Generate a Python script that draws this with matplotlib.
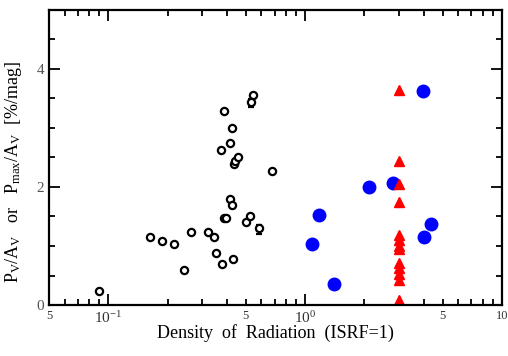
import matplotlib
matplotlib.use("Agg")
import matplotlib.pyplot as plt
from matplotlib.ticker import FixedLocator, NullFormatter

plt.rcParams.update({
    "font.family": "serif",
    "font.serif": ["Liberation Serif", "DejaVu Serif"],
    "mathtext.fontset": "custom",
    "mathtext.rm": "Liberation Serif",
    "mathtext.it": "Liberation Serif:italic",
})

# open circles: P_V/A_V from optical polarimetry
open_x = [0.0895, 0.162, 0.187, 0.215, 0.243, 0.264, 0.322, 0.346, 0.354, 0.380,
          0.432, 0.386, 0.395, 0.414, 0.425, 0.501, 0.525, 0.677, 0.435, 0.440,
          0.456, 0.375, 0.415, 0.425, 0.386, 0.546]
open_y = [0.23, 1.15, 1.08, 1.03, 0.60, 1.24, 1.23, 1.16, 0.88, 0.69,
          0.78, 1.47, 1.47, 1.79, 1.69, 1.41, 1.51, 2.27, 2.38, 2.44,
          2.50, 2.62, 2.75, 3.00, 3.28, 3.56]

# open circles with error bars
err_x = [0.583, 0.533]
err_y = [1.30, 3.44]
err_lo = [0.10, 0.08]
err_hi = [0.05, 0.04]

# filled blue circles: P_max/A_V
blue_x = [3.95, 2.81, 2.12, 1.18, 1.086, 1.40, 4.38, 4.02]
blue_y = [3.62, 2.07, 1.99, 1.53, 1.03, 0.35, 1.38, 1.15]

# red triangles
tri_x = [3.0] * 13
tri_y = [3.64, 2.43, 2.05, 1.74, 1.19, 1.10, 1.00, 0.95, 0.71, 0.62, 0.52, 0.42, 0.08]

fig = plt.figure(figsize=(5.08, 3.56), dpi=100)
ax = fig.add_axes([0.0965, 0.143, 0.8915, 0.83])

ax.plot(open_x, open_y, "o", ms=5.2, mfc="white", mec="black", mew=1.6, ls="none")
ax.errorbar(err_x, err_y, yerr=[err_lo, err_hi], fmt="o", ms=5.2, mfc="white",
            mec="black", mew=1.6, ecolor="black", elinewidth=1.2, capsize=2, capthick=1.2)
ax.plot(blue_x, blue_y, "o", ms=9, color="blue", ls="none")
ax.plot(tri_x, tri_y, "^", ms=7.5, color="red", ls="none")

ax.set_xscale("log")
ax.set_xlim(0.05, 10)
ax.set_ylim(0, 5)

major_x = [0.1, 1.0]
minor_x = [0.05, 0.06, 0.07, 0.08, 0.09, 0.2, 0.3, 0.4, 0.5, 0.6, 0.7, 0.8, 0.9,
           2, 3, 4, 5, 6, 7, 8, 9, 10]
ax.xaxis.set_major_locator(FixedLocator(major_x))
ax.xaxis.set_minor_locator(FixedLocator(minor_x))
ax.set_xticklabels(["$10^{-1}$", "$10^{0}$"], fontsize=11)
minor_labels = {0.05: "5", 0.5: "5", 5: "5", 10: "10"}
ax.set_xticklabels([minor_labels.get(v, "") for v in minor_x], minor=True, fontsize=9)

ax.set_yticks([0, 2, 4])
ax.set_yticks([0.5, 1, 1.5, 2.5, 3, 3.5, 4.5], minor=True)
ax.yaxis.set_minor_formatter(NullFormatter())
ax.set_yticklabels(["0", "2", "4"], fontsize=11)

ax.tick_params(which="both", direction="in", top=True, right=True, width=1.3, colors="black")
ax.tick_params(which="major", length=8)
ax.tick_params(which="minor", length=4)
ax.tick_params(axis="y", labelcolor="#555")
ax.tick_params(axis="x", which="both", labelcolor="#333")
for s in ax.spines.values():
    s.set_linewidth(1.6)

ax.set_xlabel("Density  of  Radiation  (ISRF=1)", fontsize=13, labelpad=-1)
ax.set_ylabel(r"P$_{\rm V}$/A$_{\rm V}$   or   P$_{\rm max}$/A$_{\rm V}$  [%/mag]",
              fontsize=13, labelpad=3)
ax.yaxis.set_label_coords(-0.055, 0.45)

fig.savefig("out.png", dpi=100)
